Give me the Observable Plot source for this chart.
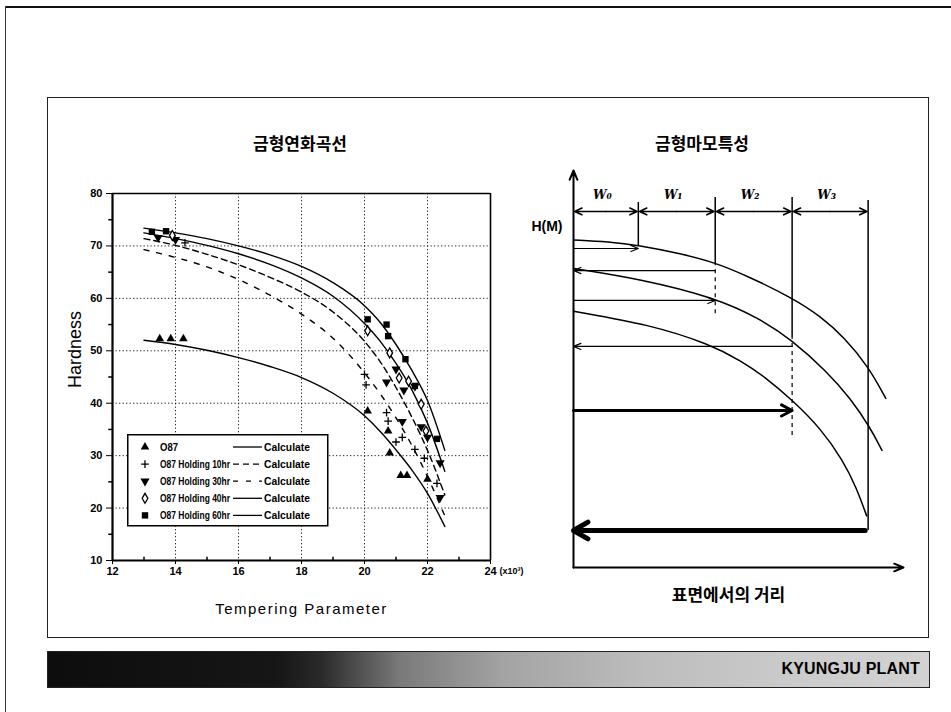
<!DOCTYPE html>
<html>
<head>
<meta charset="utf-8">
<script src="https://cdn.jsdelivr.net/npm/d3@7"></script>
<script src="https://cdn.jsdelivr.net/npm/@observablehq/plot@0.6"></script>
<style>
  html, body { margin:0; padding:0; background:#fff; }
  #page { position:relative; width:951px; height:712px; overflow:hidden; background:#fff; }
  .abs { position:absolute; }
  .ttl { font-family:"Noto Sans CJK KR","Noto Sans",sans-serif; font-weight:700; font-size:17px; line-height:17px; color:#000; white-space:nowrap; transform:translateX(-50%); }
  #banner { left:47px; top:651px; width:883px; height:37px; box-sizing:border-box; border:1px solid #222;
    background:linear-gradient(90deg,#0d0d0d 0%,#161616 26%,#2a2a2a 31%,#7a7a7a 40%,#a4a4a4 52%,#bdbdbd 68%,#cbcbcb 85%,#d2d2d2 100%); }
  #bannerText { position:absolute; right:9px; top:8px; font-family:"Liberation Sans",Arial,sans-serif; font-weight:700; font-size:16px; line-height:18px; color:#000; letter-spacing:0.2px; }
</style>
</head>
<body>
<div id="page">
  <div class="abs" style="left:5px;top:6px;width:946px;border-top:2px solid #111;"></div>
  <div class="abs" style="left:5px;top:6px;height:706px;border-left:1.5px solid #333;"></div>
  <div class="abs" style="left:47px;top:97px;width:882px;height:541px;box-sizing:border-box;border:1.5px solid #222;"></div>
  <div class="abs ttl" style="left:300px;top:134px;">금형연화곡선</div>
  <div class="abs ttl" style="left:702px;top:134px;">금형마모특성</div>
  <div id="left" class="abs" style="left:40px;top:120px;"></div>
  <div id="legend" class="abs" style="left:127px;top:434px;"></div>
  <div id="right" class="abs" style="left:520px;top:120px;"></div>
  <div id="banner" class="abs"><span id="bannerText">KYUNGJU PLANT</span></div>
</div>
<script>
// ---------------- data: left chart (tempering softening curves) ----------------
const xTicks = [12, 14, 16, 18, 20, 22, 24];
const yTicks = [10, 20, 30, 40, 50, 60, 70, 80];
const xMinor = [13, 15, 17, 19, 21, 23];
const yMinor = [15, 25, 35, 45, 55, 65, 75];
const xGrid = [14, 16, 18, 20, 22];
const yGrid = [20, 30, 40, 50, 60, 70];
const seriesNames = ["O87", "O87 Holding 10hr", "O87 Holding 30hr", "O87 Holding 40hr", "O87 Holding 60hr"];
const calcLabel = "Calculate";

const calcX    = [13, 14, 15, 16, 17, 18, 19, 20, 20.5, 21, 21.5, 22, 22.55];
const calcO87  = [52.0, 51.2, 50.1, 48.7, 47.0, 44.9, 41.9, 37.6, 34.6, 31.1, 27.3, 22.8, 16.5];
const calc10hr = [71.4, 70.1, 68.4, 66.4, 64.0, 61.2, 57.4, 51.8, 47.9, 43.0, 37.4, 31.0, 22.5];
const calc30hr = [69.3, 67.8, 66.0, 63.6, 60.6, 57.0, 52.4, 45.8, 41.8, 37.2, 32.0, 26.0, 18.5];
const calc40hr = [72.5, 71.4, 70.1, 68.5, 66.5, 63.9, 60.4, 55.2, 51.8, 47.6, 42.6, 36.2, 27.0];
const calc60hr = [73.4, 72.5, 71.4, 70.0, 68.3, 66.1, 63.0, 58.6, 55.4, 51.2, 46.3, 40.5, 31.0];

const measO87  = [[13.5,52.3],[13.85,52.3],[14.25,52.3],[20.1,38.5],[20.75,34.7],[20.8,30.5],[21.15,26.2],[21.35,26.2],[22.0,25.5]];
const meas10hr = [[14.3,70.6],[20.0,45.5],[20.05,43.5],[20.7,38.2],[20.75,36.6],[21.0,32.6],[21.2,33.5],[21.6,31.2],[21.9,29.5],[22.3,24.7]];
const meas30hr = [[13.45,71.6],[14.0,71.2],[20.7,44.0],[21.0,46.5],[21.25,42.5],[21.2,36.5],[21.6,43.2],[21.8,35.5],[22.0,33.5],[22.4,28.6],[22.4,22.0]];
const meas40hr = [[13.9,72.0],[20.1,53.8],[20.8,49.6],[21.1,44.8],[21.4,44.2],[21.8,39.8],[21.95,34.7]];
const meas60hr = [[13.25,72.7],[13.7,72.8],[20.1,56.0],[20.7,55.0],[20.75,52.8],[21.3,48.4],[21.6,43.3],[22.3,33.2]];

// ---------------- data: right schematic (wear characteristics) ----------------
const wLabels = ["W₀", "W₁", "W₂", "W₃"];
const wBounds = [0, 2.2, 4.81, 7.42, 10.0];
const boundSolidBottom = [9.04, 8.54, 6.46, 1.04];
const boundSolidTop    = [10.25, 10.39, 10.39, 10.31];
const boundDashTop     = [null, 8.54, 6.46, null];
const boundDashBottom  = [null, 7.13, 3.71, null];
const profile1 = [[0,9.2],[1.2,9.15],[2.2,9.05],[3.6,8.82],[4.8,8.57],[6.0,8.15],[7.4,7.58],[8.4,7.05],[9.2,6.45],[10.0,5.65],[10.6,4.75]];
const profile2 = [[0,8.4],[2.3,8.1],[4.8,7.58],[6.3,7.0],[7.4,6.4],[8.6,5.5],[9.4,4.75],[10.07,3.93],[10.47,3.29]];
const profile3 = [[0,7.2],[2.6,6.82],[4.6,6.28],[5.7,5.8],[6.5,5.35],[7.4,4.72],[8.4,3.9],[9.15,3.0],[9.6,2.25],[9.95,1.45]];
// horizontal arrows: [from, to, level, weight class]
const hArrows = [[0,2.2,8.96,"thin"],[4.81,0,8.34,"thin"],[0,4.81,7.5,"thin"],[7.42,0,6.21,"thin"],[0,7.42,4.41,"mid"],[9.9,0,1.04,"thick"]];
const axisExtent = {x: 11.2, y: 11.15};

// ---------------- styles ----------------
const triangleDown = {
  draw(context, size) {
    const y = -Math.sqrt(size / (Math.sqrt(3) * 3));
    context.moveTo(0, -y * 2);
    context.lineTo(-Math.sqrt(3) * y, y);
    context.lineTo(Math.sqrt(3) * y, y);
    context.closePath();
  }
};
const styles = [
  {symbol: "triangle", r: 3.2, fill: "#000", stroke: "none", dash: null},
  {symbol: "plus", r: 2.6, fill: "none", stroke: "#000", dash: "6,4"},
  {symbol: triangleDown, r: 3.4, fill: "#000", stroke: "none", dash: "5,8"},
  {symbol: "diamond", r: 3.0, fill: "#fff", stroke: "#000", dash: null},
  {symbol: "square", r: 3.6, fill: "#000", stroke: "none", dash: null}
];
const calcs = [calcO87, calc10hr, calc30hr, calc40hr, calc60hr];
const meas = [measO87, meas10hr, meas30hr, meas40hr, meas60hr];

// ---------------- left chart ----------------
const lineMarks = calcs.map((vals, i) => Plot.line(calcX.map((x, j) => ({x, y: vals[j]})), {
  x: "x", y: "y", curve: "monotone-x", stroke: "#000", strokeWidth: 1.4,
  strokeDasharray: styles[i].dash
}));
const dotMarks = meas.map((pts, i) => Plot.dot(pts.map(([x, y]) => ({x, y})), {
  x: "x", y: "y", symbol: styles[i].symbol, r: styles[i].r,
  fill: styles[i].fill, stroke: styles[i].stroke, strokeWidth: 1.3
}));

const left = Plot.plot({
  width: 490, height: 520,
  marginLeft: 72, marginRight: 40, marginTop: 73, marginBottom: 80,
  x: {domain: [12, 24], label: null},
  y: {domain: [10, 80], label: null},
  style: {fontFamily: "'Liberation Sans', Arial, sans-serif", fontSize: "11px", fontWeight: "bold", background: "transparent", overflow: "visible", color: "#000"},
  marks: [
    Plot.gridY(yGrid, {stroke: "#000", strokeOpacity: 0.85, strokeDasharray: "1.3,2.2"}),
    Plot.gridX(xGrid, {stroke: "#000", strokeOpacity: 0.85, strokeDasharray: "1.3,2.2"}),
    ...lineMarks,
    ...dotMarks,
    Plot.ruleY([80], {stroke: "#000", strokeWidth: 1.6}),
    Plot.ruleX([24], {stroke: "#000", strokeWidth: 1.6}),
    Plot.ruleX(xMinor, {x: d => d, y1: 10, y2: 10.6, stroke: "#000", strokeWidth: 1.5}),
    Plot.ruleY(yMinor, {y: d => d, x1: 11.88, x2: 12, stroke: "#000", strokeWidth: 1.5}),
    Plot.axisY(yTicks, {anchor: "left", tickSize: 6, tickPadding: 4, label: null, fontWeight: "bold", fontSize: 11}),
    Plot.axisX(xTicks, {anchor: "bottom", tickSize: 4, tickPadding: 3, label: null, fontWeight: "bold", fontSize: 11}),
    Plot.ruleX([12], {stroke: "#000", strokeWidth: 2.2}),
    Plot.ruleY([10], {stroke: "#000", strokeWidth: 2.2}),
    Plot.text(["Hardness"], {frameAnchor: "left", dx: -37, dy: 11, rotate: -90, fontSize: 18, fontWeight: "normal", fill: "#000"}),
    Plot.text(["Tempering Parameter"], {frameAnchor: "bottom", dy: 53, fontSize: 15, fontWeight: "normal", fill: "#000"}),
    Plot.text(["(x10³)"], {frameAnchor: "bottom-right", dx: 9, dy: 13, textAnchor: "start", fontSize: 9, fontWeight: "bold", fill: "#000"})
  ]
});
d3.select(left).selectAll("text").filter(function() { return this.textContent === "Tempering Parameter"; }).style("letter-spacing", "1.5px");
document.getElementById("left").appendChild(left);

// ---------------- legend ----------------
const lg = d3.create("svg").attr("width", 202).attr("height", 93).style("display", "block");
lg.append("rect").attr("x", 0.75).attr("y", 0.75).attr("width", 200).attr("height", 91).attr("fill", "#fff").attr("stroke", "#000").attr("stroke-width", 1.5);
const tf = "'Liberation Sans',Arial,sans-serif";
seriesNames.forEach((name, i) => {
  const cy = 13 + i * 17.1;
  const st = styles[i];
  const symType = typeof st.symbol === "string" ? {triangle: d3.symbolTriangle, plus: d3.symbolPlus, diamond: d3.symbolDiamond, square: d3.symbolSquare}[st.symbol] : st.symbol;
  lg.append("path").attr("transform", `translate(18,${cy})`).attr("d", d3.symbol(symType, Math.PI * st.r * st.r)())
    .attr("fill", st.fill).attr("stroke", st.stroke).attr("stroke-width", 1.3);
  lg.append("text").attr("x", 33).attr("y", cy + 3.5).text(name).attr("font-family", tf).attr("font-size", 10).attr("font-weight", "bold")
    .attr("textLength", i === 0 ? 18 : 70).attr("lengthAdjust", "spacingAndGlyphs");
  lg.append("line").attr("x1", 106).attr("x2", 135).attr("y1", cy).attr("y2", cy).attr("stroke", "#000").attr("stroke-width", 1.3).attr("stroke-dasharray", st.dash);
  lg.append("text").attr("x", 137).attr("y", cy + 3.5).text(calcLabel).attr("font-family", tf).attr("font-size", 10).attr("font-weight", "bold")
    .attr("textLength", 46).attr("lengthAdjust", "spacingAndGlyphs");
});
document.getElementById("legend").appendChild(lg.node());

// ---------------- right schematic ----------------
const wSegs = wLabels.map((label, i) => ({a: wBounds[i], b: wBounds[i + 1], mid: (wBounds[i] + wBounds[i + 1]) / 2, label}));
const wHalfArrows = wSegs.flatMap(s => [{x1: s.mid, x2: s.a + 0.04}, {x1: s.mid, x2: s.b - 0.04}]);
const bounds = wBounds.slice(1).map((x, i) => ({x, y1: boundSolidBottom[i], y2: boundSolidTop[i], d1: boundDashBottom[i], d2: boundDashTop[i]}));
const arrowsOf = w => hArrows.filter(a => a[3] === w).map(([x1, x2, y]) => ({x1, x2, y}));
const prof = p => p.map(([x, y]) => ({x, y}));

const right = Plot.plot({
  width: 410, height: 520,
  marginLeft: 53, marginRight: 27, marginTop: 50, marginBottom: 73,
  x: {domain: [0, axisExtent.x], axis: null},
  y: {domain: [0, axisExtent.y], axis: null},
  style: {background: "transparent", overflow: "visible", color: "#000"},
  marks: [
    Plot.ruleX(bounds, {x: "x", y1: "y1", y2: "y2", stroke: "#000", strokeWidth: 1.5}),
    Plot.ruleX(bounds.filter(d => d.d1 != null), {x: "x", y1: "d1", y2: "d2", stroke: "#000", strokeWidth: 1.2, strokeDasharray: "4,4"}),
    Plot.arrow(wHalfArrows, {x1: "x1", x2: "x2", y1: () => 10, y2: () => 10, stroke: "#000", strokeWidth: 1.6, headLength: 7.5, headAngle: 50}),
    Plot.text(wSegs, {x: d => d.mid - 0.12, y: () => 10.45, text: "label", fontFamily: "'DejaVu Serif', 'Liberation Serif', serif", fontStyle: "italic", fontWeight: "bold", fontSize: 12, fill: "#000"}),
    Plot.line(prof(profile1), {x: "x", y: "y", curve: "basis", stroke: "#000", strokeWidth: 1.5}),
    Plot.line(prof(profile2), {x: "x", y: "y", curve: "basis", stroke: "#000", strokeWidth: 1.5}),
    Plot.line(prof(profile3), {x: "x", y: "y", curve: "basis", stroke: "#000", strokeWidth: 1.5}),
    Plot.arrow(arrowsOf("thin"), {x1: "x1", x2: "x2", y1: "y", y2: "y", stroke: "#000", strokeWidth: 1.2, headLength: 10, headAngle: 45}),
    Plot.arrow(arrowsOf("mid"), {x1: "x1", x2: "x2", y1: "y", y2: "y", stroke: "#000", strokeWidth: 3, headLength: 6, headAngle: 55}),
    Plot.arrow(arrowsOf("thick"), {x1: "x1", x2: "x2", y1: "y", y2: "y", stroke: "#000", strokeWidth: 5, headLength: 5, headAngle: 60}),
    Plot.arrow([{x1: 0, y1: 0, x2: 0, y2: axisExtent.y}, {x1: 0, y1: 0, x2: axisExtent.x, y2: 0}], {x1: "x1", y1: "y1", x2: "x2", y2: "y2", stroke: "#000", strokeWidth: 2, headLength: 7.5, headAngle: 45}),
    Plot.text(["H(M)"], {frameAnchor: "top-left", dx: -11, dy: 51, textAnchor: "end", fontFamily: "'Liberation Sans', Arial, sans-serif", fontWeight: "bold", fontSize: 14, fill: "#000"}),
    Plot.text(["표면에서의 거리"], {frameAnchor: "bottom", dx: -10, dy: 33, fontFamily: "'Noto Sans CJK KR', sans-serif", fontWeight: "bold", fontSize: 17, fill: "#000"})
  ]
});
document.getElementById("right").appendChild(right);
</script>
</body>
</html>
